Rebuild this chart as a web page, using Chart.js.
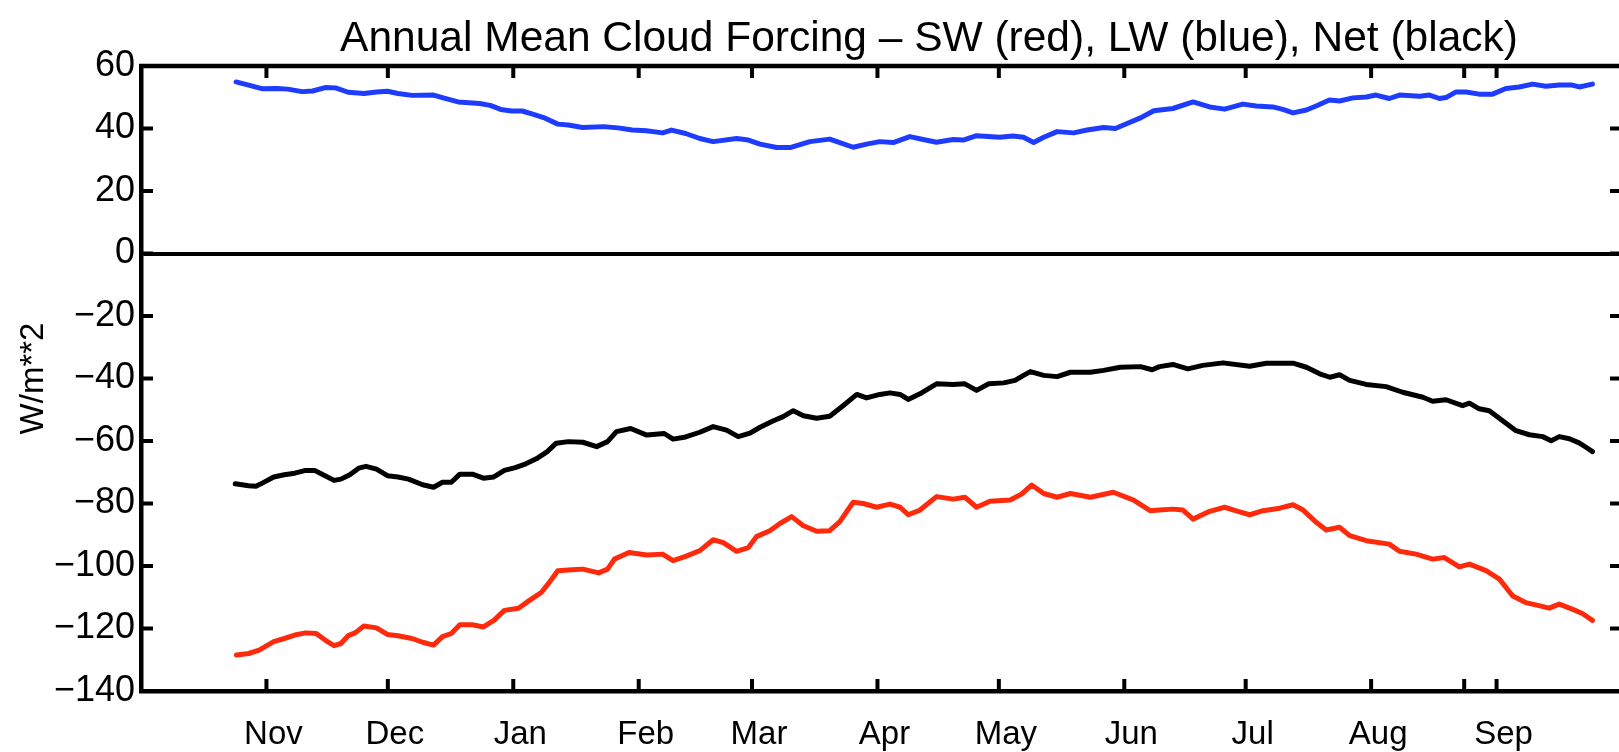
<!DOCTYPE html>
<html>
<head>
<meta charset="utf-8">
<title>Annual Mean Cloud Forcing</title>
<script src="https://cdn.jsdelivr.net/npm/chart.js@4.4.1/dist/chart.umd.min.js"></script>
<style>
  html, body { margin: 0; padding: 0; background: #fff; overflow: hidden; }
  #wrap { position: relative; width: 1858px; height: 752px; }
</style>
</head>
<body>
<div id="wrap"><canvas id="cloudChart" width="1858" height="752"></canvas></div>
<script>
// days counted from 1 Nov; the axis runs from 1 Oct to 2 Oct
const monthTickDays = [0, 30, 61, 92, 120, 151, 181, 212, 242, 273, 296, 304];
const monthLabels = ['Nov', 'Dec', 'Jan', 'Feb', 'Mar', 'Apr', 'May', 'Jun', 'Jul', 'Aug', '', 'Sep'];

// LW cloud forcing (blue)
const lwDays = [-7.5, -4.4, -0.9, 2.6, 5.3, 8.8, 11.4, 14.5, 17.1, 20.2, 24.1, 27.2, 29.9, 32.5, 36, 41.3, 43.9, 47.4,
  52.7, 55.3, 57.9, 60.6, 63.2, 65.8, 68.5, 72, 74.6, 78.1, 83.4, 86.9, 90.4, 93.9, 97.9, 100.1, 103.6,
  107.1, 110.4, 116.2, 119.1, 122, 126.1, 129.4, 134.3, 139.2, 141.7, 145, 148.3, 151.6, 154.9, 159, 162.3,
  165.6, 169.7, 172.2, 175.5, 181.2, 184.5, 187.1, 189.6, 192.1, 195.4, 199.5, 202.8, 206.9, 209.8, 212.7,
  216, 219.3, 224, 229, 233.1, 236.8, 241.3, 244.6, 248.7, 251.2, 253.7, 257, 259.4, 262.7, 265.2, 268.5,
  271.8, 274.2, 277.5, 280, 285, 287.4, 289.9, 291.5, 294, 296.5, 299.7, 303, 306.3, 309.6, 312.9, 316.2,
  319.5, 322.7, 324.4, 327.7];
const lwValues = [54.9, 53.9, 52.7, 52.8, 52.6, 51.8, 52, 53.1, 53, 51.6, 51.2, 51.7, 51.9, 51.2, 50.6, 50.7, 49.7, 48.5,
  48, 47.4, 46.1, 45.6, 45.6, 44.6, 43.5, 41.4, 41.1, 40.3, 40.6, 40.2, 39.5, 39.3, 38.6, 39.5, 38.4,
  36.8, 35.8, 36.8, 36.3, 35, 33.9, 33.9, 35.8, 36.6, 35.5, 34, 35, 35.8, 35.5, 37.4, 36.5,
  35.6, 36.5, 36.3, 37.7, 37.2, 37.6, 37.2, 35.5, 37.2, 39, 38.6, 39.5, 40.3, 40, 41.6,
  43.4, 45.7, 46.4, 48.5, 46.9, 46.2, 47.8, 47.2, 46.9, 46.1, 45, 45.9, 47.2, 49.1, 48.8, 49.8,
  50.1, 50.7, 49.6, 50.7, 50.3, 50.7, 49.6, 49.9, 51.7, 51.7, 51, 51, 52.8, 53.3, 54.2, 53.5,
  53.9, 53.9, 53.3, 54.2];

// Net cloud forcing (black)
const netDays = [-7.7, -4.4, -2.6, -0.9, 1.8, 4.4, 7, 9.7, 11.9, 14, 16.7, 18.4, 20.6, 22.8, 24.6, 27.2, 29.9, 32.5,
  35.1, 38.6, 41.3, 43.5, 45.7, 47.8, 50.9, 53.6, 56.2, 58.8, 61.5, 64.1, 66.7, 69.4, 71.6, 74.6, 78.2, 81.6,
  84.3, 86.5, 90, 94, 98.3, 100.5, 103.6, 107.1, 110.4, 113.7, 116.6, 119.5, 122, 125.3, 127.7, 130.2, 132.7,
  136, 139.2, 142.5, 145.9, 148.3, 151.6, 154.1, 156.6, 158.6, 161.5, 165.6, 169.7, 172.6, 175.5, 178.5, 182.2,
  185, 187.1, 188.8, 192.1, 195.4, 198.7, 203.6, 206.9, 211, 216, 218.9, 220.7, 224, 227.7, 231.4, 236.4, 243,
  247.1, 253.7, 257, 260.3, 262.8, 265.2, 267.7, 271.8, 276.7, 280.8, 285.8, 288.2, 291.5, 295.6, 297.3, 299.7,
  302.2, 305.5, 308.8, 312.1, 315.4, 317.5, 319.5, 322, 324.4, 326.1, 327.7];
const netValues = [-73.7, -74.3, -74.5, -73.4, -71.5, -70.8, -70.3, -69.4, -69.4, -70.8, -72.6, -72.2, -70.8, -68.7, -68.1, -69, -71.1, -71.5,
  -72.2, -74, -74.8, -73.2, -73.2, -70.6, -70.6, -71.9, -71.5, -69.4, -68.5, -67.3, -65.7, -63.4, -60.7, -60.2, -60.4, -61.8,
  -60.2, -57, -56, -58.1, -57.6, -59.4, -58.7, -57.2, -55.4, -56.5, -58.6, -57.5, -55.6, -53.5, -52.2, -50.3, -51.9,
  -52.7, -52.1, -48.7, -45.1, -46.2, -45.1, -44.6, -45.1, -46.7, -44.9, -41.7, -41.9, -41.7, -43.8, -41.7, -41.4,
  -40.6, -39, -37.8, -39, -39.4, -38, -38, -37.4, -36.4, -36.2, -37.2, -36.2, -35.5, -36.9, -35.8, -35, -36.1,
  -35.1, -35.1, -36.4, -38.5, -39.6, -38.8, -40.6, -41.9, -42.6, -44.4, -46, -47.3, -46.8, -48.7, -47.9, -49.7,
  -50.3, -53.5, -56.7, -58, -58.6, -59.9, -58.6, -59.3, -60.6, -62, -63.4];

// SW cloud forcing (red)
const swDays = [-7.4, -4.4, -1.8, 1.8, 4.4, 7, 9.7, 12.3, 14.5, 16.7, 18.4, 20.2, 21.9, 24.1, 27.2, 29.9, 32.5, 36,
  38.6, 41.3, 43.5, 45.7, 47.8, 50.9, 53.6, 56.2, 58.8, 62.3, 65, 68, 70.2, 72, 75.5, 78.2, 82.1, 84.3, 86,
  89.6, 94, 97.9, 100.5, 103.6, 107.1, 110.4, 112.9, 116.2, 119.1, 121.1, 124.4, 126.9, 129.8, 132.7, 136,
  139.2, 141.7, 145, 147.5, 150.8, 154.1, 156.6, 158.6, 161.5, 165.6, 169.7, 172.6, 175.5, 178.8, 183.8, 186.6,
  189.1, 192.1, 195.4, 198.7, 203.6, 209.3, 214.3, 218.4, 220.7, 224, 226.5, 229, 233.1, 236.8, 240.1, 243,
  246.3, 250.4, 253.7, 256.2, 259.5, 261.9, 265.2, 267.7, 271.8, 277.5, 280, 284.1, 288.2, 291.1, 294.8, 297.3,
  301.4, 304.7, 308, 311.2, 314.5, 317, 319.5, 322.7, 325.2, 327.7];
const swValues = [-128.5, -128, -126.9, -124.2, -123.2, -122.1, -121.4, -121.6, -123.7, -125.5, -124.8, -122.3, -121.4, -119.2, -119.8, -121.9, -122.3, -123.2,
  -124.4, -125.3, -122.6, -121.6, -118.8, -118.8, -119.5, -117.4, -114.2, -113.5, -111, -108.4, -104.7, -101.5, -101.2, -101, -102.2, -101, -97.8,
  -95.7, -96.5, -96.2, -98.3, -96.9, -95.1, -91.6, -92.5, -95.3, -94.1, -90.6, -88.7, -86.4, -84.2, -87.1, -88.9,
  -88.7, -85.8, -79.6, -80, -81.2, -80.2, -81.2, -83.6, -82.1, -77.8, -78.6, -78, -81.2, -79.3, -78.9, -77,
  -74.1, -76.8, -78, -76.8, -78, -76.4, -78.9, -82.3, -82.1, -81.8, -82.1, -85, -82.5, -81.2, -82.5, -83.6,
  -82.3, -81.5, -80.4, -82.1, -86.1, -88.5, -87.6, -90.3, -91.9, -93, -95.3, -96.2, -97.8, -97.3, -100.3, -99.4,
  -101.5, -104.2, -109.6, -111.7, -112.7, -113.5, -112.2, -113.8, -115.2, -117.4];

const yTicks = [60, 40, 20, 0, -20, -40, -60, -80, -100, -120, -140];

const FONT = '"Liberation Sans", Arial, Helvetica, sans-serif';
const TICK_LEN = 12;

function toPoints(days, values) {
  return days.map((d, i) => ({ x: d, y: values[i] }));
}

function series(label, days, values, color) {
  return {
    label: label,
    data: toPoints(days, values),
    borderColor: color,
    borderWidth: 5,
    pointRadius: 0,
    tension: 0,
    borderJoinStyle: 'round',
    borderCapStyle: 'round'
  };
}

// top/right frame and inward tick marks on all four sides
const frame = {
  id: 'frame',
  afterDatasetsDraw(chart) {
    const { ctx, chartArea: a, scales } = chart;
    ctx.save();
    ctx.strokeStyle = '#000';
    ctx.lineCap = 'butt';
    ctx.lineWidth = 4.5;
    ctx.beginPath();
    ctx.moveTo(a.left - 2, a.top);
    ctx.lineTo(a.right, a.top);
    ctx.lineTo(a.right, a.bottom);
    ctx.stroke();

    ctx.lineWidth = 4;
    ctx.beginPath();
    scales.x.ticks.forEach((t, i) => {
      const px = scales.x.getPixelForTick(i);
      ctx.moveTo(px, a.top);
      ctx.lineTo(px, a.top + TICK_LEN);
      ctx.moveTo(px, a.bottom);
      ctx.lineTo(px, a.bottom - TICK_LEN);
    });
    scales.y.ticks.forEach((t, i) => {
      const py = scales.y.getPixelForTick(i);
      ctx.moveTo(a.left, py);
      ctx.lineTo(a.left + TICK_LEN, py);
      ctx.moveTo(a.right, py);
      ctx.lineTo(a.right - TICK_LEN, py);
    });
    ctx.stroke();
    ctx.restore();
  }
};

new Chart(document.getElementById('cloudChart'), {
  type: 'line',
  data: {
    datasets: [
      series('SW', swDays, swValues, '#ff2a0c'),
      series('LW', lwDays, lwValues, '#1e3cff'),
      series('Net', netDays, netValues, '#000000')
    ]
  },
  options: {
    responsive: false,
    animation: false,
    devicePixelRatio: 1,
    layout: { padding: 0 },
    plugins: {
      legend: { display: false },
      tooltip: { enabled: false },
      title: {
        display: true,
        text: 'Annual Mean Cloud Forcing \u2013 SW (red), LW (blue), Net (black)',
        color: '#000',
        font: { family: FONT, size: 42.5, weight: 'normal', lineHeight: 1.2 },
        padding: { top: 13.5, bottom: 1.5 }
      }
    },
    scales: {
      x: {
        type: 'linear',
        min: -31,
        max: 335,
        afterBuildTicks: (s) => { s.ticks = monthTickDays.map(v => ({ value: v })); },
        afterFit: (s) => { s.height = 61; },
        grid: { display: false },
        border: { display: true, color: '#000', width: 4.5 },
        ticks: {
          autoSkip: false,
          maxRotation: 0,
          labelOffset: 7,
          padding: 16,
          color: '#000',
          font: { family: FONT, size: 33 },
          callback: (v, i) => monthLabels[i]
        }
      },
      y: {
        min: -140,
        max: 60,
        afterBuildTicks: (s) => { s.ticks = yTicks.map(v => ({ value: v })); },
        afterFit: (s) => { s.width = 141; },
        grid: {
          drawTicks: false,
          color: (c) => (c.tick && c.tick.value === 0 ? '#000' : 'rgba(0,0,0,0)'),
          lineWidth: 4
        },
        border: { display: true, color: '#000', width: 4.5 },
        ticks: {
          padding: 6,
          color: '#000',
          font: { family: FONT, size: 36 },
          callback: (v) => (v < 0 ? '\u2212' + Math.abs(v) : String(v))
        },
        title: {
          display: true,
          text: 'W/m**2',
          color: '#000',
          font: { family: FONT, size: 33 },
          padding: { top: 14, bottom: 0 }
        }
      },
      // empty strip on the right so the plot ends at the page edge
      y2: {
        position: 'right',
        min: -140,
        max: 60,
        afterFit: (s) => { s.width = 236; },
        grid: { display: false },
        border: { display: false },
        ticks: { display: false }
      }
    }
  },
  plugins: [frame]
});
</script>
</body>
</html>
